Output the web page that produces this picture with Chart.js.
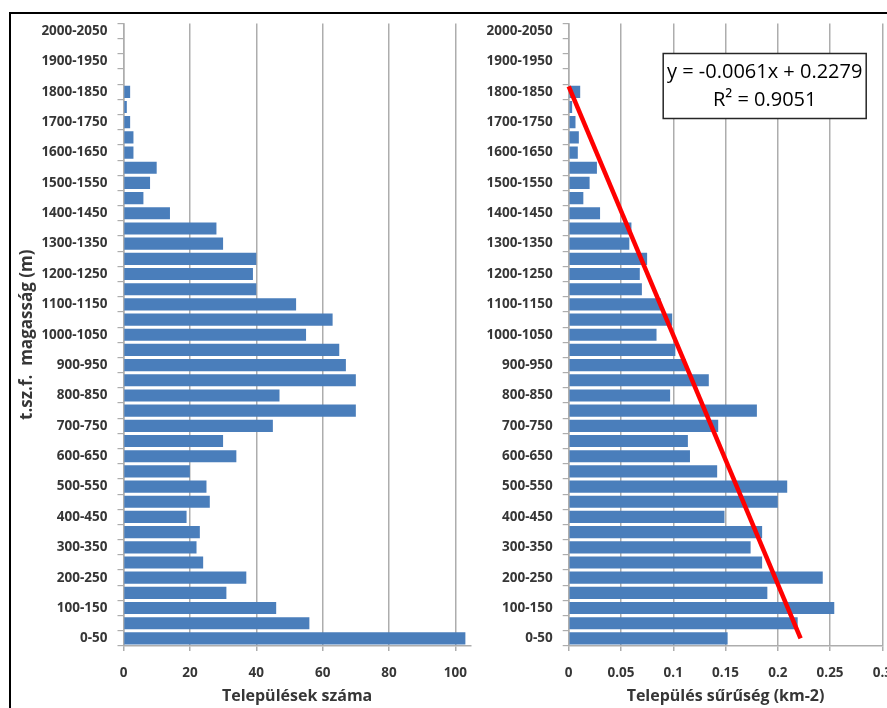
<!DOCTYPE html>
<html>
<head>
<meta charset="utf-8">
<script src="https://cdn.jsdelivr.net/npm/chart.js@4"></script>
<style>
  html, body { margin: 0; padding: 0; background: #fff; overflow: hidden; }
  body { width: 887px; height: 708px; position: relative; }
  #frame { position: absolute; left: 9px; top: 12px; width: 900px; height: 720px; border-top: 2px solid #000; border-left: 2px solid #000; }
  #countChart { position: absolute; left: 12px; top: 15px; }
  #densityChart { position: absolute; left: 472px; top: 15px; background: #fff; }
</style>
</head>
<body>
<div id="frame"></div>
<canvas id="countChart" width="469" height="693"></canvas>
<canvas id="densityChart" width="434" height="693"></canvas>
<script>
// elevation bands (m a.s.l.), bottom to top
const heightBands = [
  "0-50", "50-100", "100-150", "150-200", "200-250", "250-300", "300-350",
  "350-400", "400-450", "450-500", "500-550", "550-600", "600-650", "650-700",
  "700-750", "750-800", "800-850", "850-900", "900-950", "950-1000",
  "1000-1050", "1050-1100", "1100-1150", "1150-1200", "1200-1250",
  "1250-1300", "1300-1350", "1350-1400", "1400-1450", "1450-1500",
  "1500-1550", "1550-1600", "1600-1650", "1650-1700", "1700-1750",
  "1750-1800", "1800-1850", "1850-1900", "1900-1950", "1950-2000", "2000-2050",
];

// number of settlements per band
const settlementCount = [
  103, 56, 46, 31, 37, 24, 22, 23, 19, 26, 25, 20, 34, 30, 45, 70, 47, 70,
  67, 65, 55, 63, 52, 40, 39, 40, 30, 28, 14, 6, 8, 10, 3, 3, 2, 1, 2,
  0, 0, 0, 0,
];

// settlement density (km-2) per band
const settlementDensity = [
  0.152, 0.219, 0.254, 0.19, 0.243, 0.185, 0.174, 0.185, 0.149, 0.2, 0.209,
  0.142, 0.116, 0.114, 0.143, 0.18, 0.097, 0.134, 0.112, 0.102, 0.084,
  0.099, 0.088, 0.07, 0.068, 0.075, 0.058, 0.06, 0.03, 0.014, 0.02, 0.027,
  0.0087, 0.0097, 0.0065, 0.0033, 0.011, 0, 0, 0, 0,
];

const countTicks = [0, 20, 40, 60, 80, 100];
const countMax = 104.6;
const densityTicks = [0, 0.05, 0.1, 0.15, 0.2, 0.25, 0.3];
const densityMax = 0.3;

// linear trend y = -0.0061x + 0.2279 (x = band number), its two end points
const trendLabel = ["y = -0.0061x + 0.2279", "R\u00b2 = 0.9051"];
const trendPositions = [1, 37.36];
const trendValues = [0.2218, 0];

const barBlue = "#4a7ebb";
const gridGray = "#adadad";
const textColor = "#363636";
const tickFont = { family: "'Open Sans'", size: 13.5, weight: "bold" };
const titleFont = { family: "'Open Sans'", size: 16, weight: "bold" };

function bandTickLabel(value, index) {
  return index % 2 === 0 ? this.getLabelForValue(value) : "";
}

function categoryAxis(width, title) {
  return {
    type: "category",
    reverse: true,
    afterFit: (scale) => {
      scale.width = width;
      scale.paddingTop = 0;
      scale.paddingBottom = 0;
    },
    border: { color: gridGray, width: 1.5 },
    grid: {
      drawOnChartArea: false,
      drawTicks: true,
      tickLength: 6,
      color: gridGray,
      lineWidth: 1.2,
    },
    ticks: {
      autoSkip: false,
      padding: 10,
      color: textColor,
      font: tickFont,
      callback: bandTickLabel,
    },
    title: {
      display: !!title,
      text: title,
      color: textColor,
      font: { ...titleFont, size: 17 },
      padding: { top: 5, bottom: 0 },
    },
  };
}

function valueAxis(ticks, max, title) {
  return {
    type: "linear",
    min: ticks[0],
    max: max,
    afterFit: (scale) => {
      scale.height = 62;
    },
    afterBuildTicks: (scale) => {
      scale.ticks = ticks.map((v) => ({ value: v }));
    },
    border: { color: gridGray, width: 1.5 },
    grid: { color: gridGray, lineWidth: 1.5, tickLength: 5 },
    ticks: {
      padding: 14,
      color: textColor,
      font: tickFont,
      callback: (value) => String(Number(value.toFixed(4))),
    },
    title: {
      display: true,
      text: title,
      color: textColor,
      font: titleFont,
      padding: { top: 2, bottom: 2 },
    },
  };
}

function barDataset(values) {
  return {
    data: values,
    backgroundColor: barBlue,
    borderWidth: 0,
    categoryPercentage: 1,
    barPercentage: 0.8,
  };
}

const sharedOptions = {
  indexAxis: "y",
  responsive: false,
  animation: false,
  layout: { padding: { top: 8.5, bottom: 0, left: 0, right: 0 } },
  plugins: { legend: { display: false }, tooltip: { enabled: false } },
};

new Chart(document.getElementById("countChart"), {
  type: "bar",
  data: {
    labels: heightBands,
    datasets: [barDataset(settlementCount)],
  },
  options: {
    ...sharedOptions,
    scales: {
      x: valueAxis(countTicks, countMax, "Települések száma"),
      y: categoryAxis(111.5, "t.sz.f.  magasság (m)"),
    },
  },
});

// red trend line, placed through the chart's own scales
const trendLine = {
  id: "trendLine",
  afterDatasetsDraw(chart) {
    const { ctx, scales } = chart;
    ctx.save();
    ctx.strokeStyle = "#ff0000";
    ctx.lineWidth = 4.5;
    ctx.beginPath();
    trendPositions.forEach((p, i) => {
      const px = scales.x.getPixelForValue(trendValues[i]);
      const py = scales.y.getPixelForValue(p - 1);
      if (i === 0) ctx.moveTo(px, py);
      else ctx.lineTo(px, py);
    });
    ctx.stroke();
    ctx.restore();
  },
};

const equationBox = {
  id: "equationBox",
  afterDraw(chart) {
    const { ctx, chartArea } = chart;
    const left = chartArea.left + 94.5;
    const top = chartArea.top + 30;
    const w = 203;
    const h = 65;
    ctx.save();
    ctx.fillStyle = "#fff";
    ctx.fillRect(left, top, w, h);
    ctx.strokeStyle = "#262626";
    ctx.lineWidth = 1.5;
    ctx.strokeRect(left, top, w, h);
    ctx.fillStyle = "#000";
    ctx.font = "20px 'Open Sans'";
    ctx.textAlign = "center";
    ctx.textBaseline = "middle";
    ctx.fillText(trendLabel[0], left + w / 2, top + 19);
    ctx.fillText(trendLabel[1], left + w / 2, top + 47);
    ctx.restore();
  },
};

new Chart(document.getElementById("densityChart"), {
  type: "bar",
  data: {
    labels: heightBands,
    datasets: [barDataset(settlementDensity)],
  },
  options: {
    ...sharedOptions,
    scales: {
      x: valueAxis(densityTicks, densityMax, "Település sűrűség (km-2)"),
      y: categoryAxis(96.7, ""),
    },
  },
  plugins: [trendLine, equationBox],
});
</script>
</body>
</html>
